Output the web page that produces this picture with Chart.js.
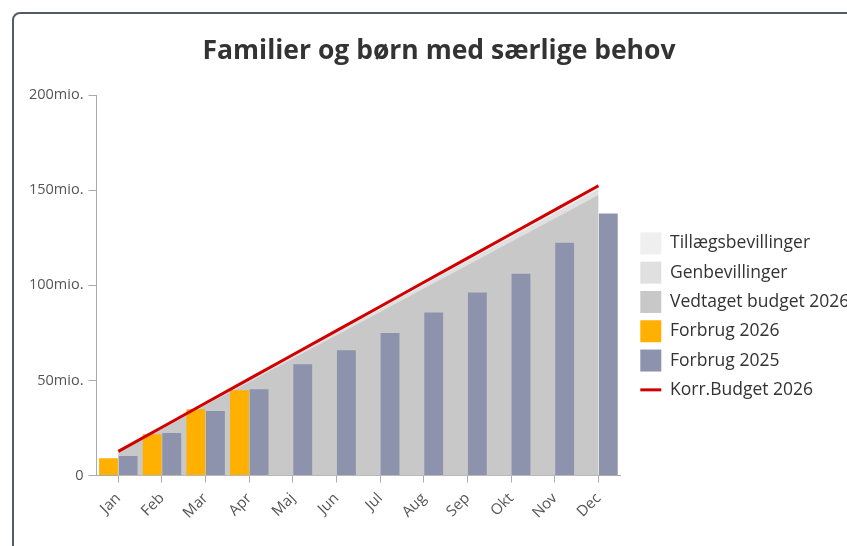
<!DOCTYPE html>
<html>
<head>
<meta charset="utf-8">
<script src="https://cdn.jsdelivr.net/npm/chart.js@4.4.1/dist/chart.umd.min.js"></script>
<style>
  html, body { margin: 0; padding: 0; background: #fff; overflow: hidden; }
  #frame {
    position: absolute; left: 12px; top: 12px;
    width: 900px; height: 600px;
    border: 2px solid #555b61; border-radius: 8px;
  }
  canvas { display: block; }
</style>
</head>
<body>
<div id="frame"><canvas id="budgetChart" width="840" height="532"></canvas></div>
<script>
// Måneder
const months = ["Jan", "Feb", "Mar", "Apr", "Maj", "Jun", "Jul", "Aug", "Sep", "Okt", "Nov", "Dec"];

// Budget (mio. kr., akkumuleret)
const vedtagetBudget = [12.3, 24.6, 36.9, 49.2, 61.5, 73.8, 86.0, 98.3, 110.6, 122.9, 135.2, 147.5];
const genbevillinger = [0.2, 0.5, 0.7, 1.0, 1.2, 1.5, 1.7, 2.0, 2.2, 2.5, 2.7, 3.0];
const tillaeg = [0.2, 0.3, 0.5, 0.6, 0.8, 0.9, 1.1, 1.3, 1.4, 1.6, 1.7, 1.9];
const korrBudget = [12.7, 25.4, 38.1, 50.8, 63.5, 76.2, 88.9, 101.6, 114.3, 127.0, 139.7, 152.4];

// Forbrug
const forbrug2026 = [9.1, 21.7, 34.8, 44.9, null, null, null, null, null, null, null, null];
const forbrug2025 = [10.2, 22.4, 33.9, 45.3, 58.5, 65.9, 75.0, 85.7, 96.2, 106.1, 122.4, 137.8];

// Y-akse
const yTicks = [0, 50, 100, 150, 200];

const FONT = "'Open Sans', 'Noto Sans', sans-serif";

// tegner en streg i stedet for en kasse for linjen i legenden
const legendLine = {
  id: "legendLine",
  afterDraw(chart) {
    const legend = chart.legend;
    legend.legendItems.forEach((item, i) => {
      if (item.datasetIndex !== 5) return;
      const box = legend.legendHitBoxes[i];
      const y = box.top + box.height / 2;
      const ctx = chart.ctx;
      ctx.save();
      ctx.strokeStyle = "#d00000";
      ctx.lineWidth = 3;
      ctx.beginPath();
      ctx.moveTo(box.left, y);
      ctx.lineTo(box.left + 21, y);
      ctx.stroke();
      ctx.restore();
    });
  }
};

const ctx = document.getElementById("budgetChart").getContext("2d");
new Chart(ctx, {
  data: {
    labels: months,
    datasets: [
      {
        type: "line",
        label: "Tillægsbevillinger",
        data: tillaeg,
        stack: "budget",
        order: 5,
        fill: "origin",
        backgroundColor: "#efefef",
        borderColor: "rgba(0,0,0,0)",
        borderWidth: 0,
        pointRadius: 0,
        tension: 0
      },
      {
        type: "line",
        label: "Genbevillinger",
        data: genbevillinger,
        stack: "budget",
        order: 4,
        fill: "origin",
        backgroundColor: "#e0e0e0",
        borderColor: "rgba(0,0,0,0)",
        borderWidth: 0,
        pointRadius: 0,
        tension: 0
      },
      {
        type: "line",
        label: "Vedtaget budget 2026",
        data: vedtagetBudget,
        stack: "budget",
        order: 3,
        fill: "origin",
        backgroundColor: "#c8c8c8",
        borderColor: "rgba(0,0,0,0)",
        borderWidth: 0,
        pointRadius: 0,
        tension: 0
      },
      {
        type: "bar",
        label: "Forbrug 2026",
        data: forbrug2026,
        stack: "f2026",
        order: 1,
        backgroundColor: "#ffb000",
        categoryPercentage: 0.9,
        barPercentage: 0.96
      },
      {
        type: "bar",
        label: "Forbrug 2025",
        data: forbrug2025,
        stack: "f2025",
        order: 2,
        backgroundColor: "#8e93ad",
        categoryPercentage: 0.9,
        barPercentage: 0.96
      },
      {
        type: "line",
        label: "Korr.Budget 2026",
        data: korrBudget,
        stack: "korr",
        order: 0,
        fill: false,
        borderColor: "#d00000",
        backgroundColor: "#d00000",
        borderWidth: 3,
        pointRadius: 0,
        tension: 0
      }
    ]
  },
  options: {
    responsive: false,
    animation: false,
    devicePixelRatio: 1,
    layout: { padding: { left: 10, right: 0, bottom: 17 } },
    scales: {
      x: {
        offset: true,
        grid: { offset: false, drawOnChartArea: false, color: "#aaa", tickLength: 7 },
        border: { color: "#aaa" },
        ticks: {
          color: "#555",
          font: { family: FONT, size: 15 },
          maxRotation: 45,
          minRotation: 45,
          padding: 7
        }
      },
      y: {
        stacked: true,
        min: 0,
        max: 200,
        afterBuildTicks: (axis) => { axis.ticks = yTicks.map(v => ({ value: v })); },
        grid: { drawOnChartArea: false, color: "#aaa", tickLength: 8 },
        border: { color: "#aaa" },
        ticks: {
          color: "#555",
          font: { family: FONT, size: 14.5 },
          padding: 5,
          callback: (v) => v === 0 ? "0" : v + "mio."
        }
      },
      // tom akse: lille luft mellem plot og legende
      gap: {
        type: "linear",
        position: "right",
        grid: { display: false },
        border: { display: false },
        ticks: { display: false },
        afterFit: (axis) => { axis.width = 12.7; }
      }
    },
    plugins: {
      title: {
        display: true,
        text: "Familier og børn med særlige behov",
        color: "#333",
        font: { family: FONT, size: 26.5, weight: "bold" },
        padding: { top: 22, bottom: 27.4 }
      },
      legend: {
        position: "right",
        align: "center",
        maxWidth: 221,
        title: { display: true, text: " ", font: { size: 1 }, padding: { top: 89, bottom: 0 } },
        labels: {
          color: "#333",
          font: { family: FONT, size: 17.5 },
          boxWidth: 21,
          boxHeight: 22,
          padding: 7.3,
          sort: (a, b) => a.datasetIndex - b.datasetIndex,
          generateLabels: (chart) => {
            const items = Chart.defaults.plugins.legend.labels.generateLabels(chart);
            items.forEach(it => {
              it.lineWidth = 0;
              if (it.datasetIndex === 5) {
                it.fillStyle = "rgba(0,0,0,0)";
                it.strokeStyle = "rgba(0,0,0,0)";
              }
            });
            return items;
          }
        }
      },
      tooltip: { enabled: false }
    }
  },
  plugins: [legendLine]
});
</script>
</body>
</html>
